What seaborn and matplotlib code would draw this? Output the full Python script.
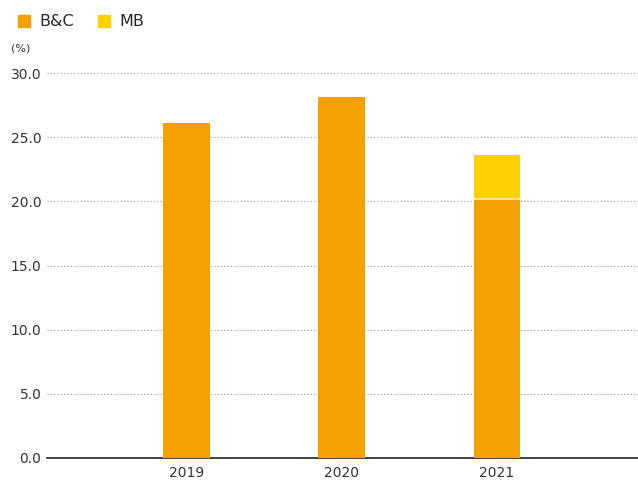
import pandas as pd
import numpy as np
import matplotlib.pyplot as plt
import seaborn as sns
from matplotlib.patches import Patch

years = ['2019', '2020', '2021']
bc = [26.1, 28.1, 20.2]
mb = [0.0, 0.0, 3.4]

c_bc = '#F4A100'
c_mb = '#FFD100'

df = pd.DataFrame({'year': years, 'B&C': bc, 'MB': mb})
df['total'] = df['B&C'] + df['MB']

sns.set_style('white')
plt.rcParams['font.family'] = ['DejaVu Sans']

fig = plt.figure(figsize=(6.38, 4.82), dpi=100)
ax = fig.add_axes([0.0737, 0.0498, 0.9263, 0.7987])

# stacked: totals first (MB colour), B&C on top of it
sns.barplot(data=df, x='year', y='total', color=c_mb, width=0.3,
            saturation=1, ax=ax, zorder=3, linewidth=0)
sns.barplot(data=df, x='year', y='B&C', color=c_bc, width=0.3,
            saturation=1, ax=ax, zorder=4, linewidth=0)
# thin light seam where MB sits on B&C
for p, v in zip(ax.patches[len(years):], mb):
    if v > 0:
        ax.plot([p.get_x(), p.get_x() + p.get_width()],
                [p.get_height(), p.get_height()],
                color='#FFF0C0', lw=1.2, zorder=5, solid_capstyle='butt')

ax.set_ylim(0, 30)
ax.set_xlim(-0.9, 2.91)
ax.set_yticks(np.arange(0, 30.1, 5))
ax.set_yticklabels([f'{v:.1f}' for v in np.arange(0, 30.1, 5)])
ax.set_xlabel('')
ax.set_ylabel('')
ax.yaxis.grid(True, linestyle=(0, (1, 2)), color='#999999', linewidth=0.8, zorder=0)
ax.set_axisbelow(True)
for s in ['top', 'right', 'left']:
    ax.spines[s].set_visible(False)
ax.spines['bottom'].set_color('#222222')
ax.spines['bottom'].set_linewidth(1.2)
ax.tick_params(axis='both', length=0, labelsize=10, colors='#333333')
ax.tick_params(axis='y', pad=4)
ax.tick_params(axis='x', pad=6)

fig.text(0.018, 0.893, '(%)', fontsize=8, color='#333333')

handles = [Patch(color=c_bc, label='B&C'), Patch(color=c_mb, label='MB')]
fig.legend(handles=handles, loc='upper left', bbox_to_anchor=(0.005, 1.0),
           ncol=2, frameon=False, fontsize=11.5, handlelength=0.75,
           handleheight=0.75, handletextpad=0.6, columnspacing=1.5)

fig.savefig('out.png', dpi=100)
